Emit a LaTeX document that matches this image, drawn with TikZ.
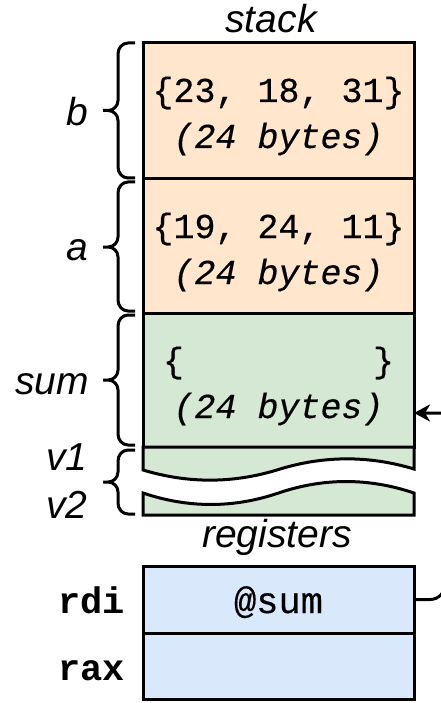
\documentclass[tikz,border=0pt]{standalone}
\usepackage{fontspec}
\setmainfont{Liberation Sans}
\setsansfont{Liberation Sans}
\setmonofont{Liberation Mono}
\newfontfamily\monoheavy[FakeBold=0.4]{Liberation Mono}
\usetikzlibrary{arrows.meta}
\definecolor{orangefill}{HTML}{FFE6CC}
\definecolor{greenfill}{HTML}{D5E8D4}
\definecolor{bluefill}{HTML}{DAE8FC}
\newcommand\drawbrace[3]{%
  \draw[bracestyle] (135,#1) -- (128,#1) to[out=180,in=90] (118,#1+11) -- (118,#2-10)
    to[out=-90,in=0] (108,#2) -- (103,#2)
    (108,#2) to[out=0,in=90] (118,#2+10) -- (118,#3-11)
    to[out=-90,in=180] (128,#3) -- (135,#3);}
\begin{document}
\begin{tikzpicture}[x=1pt,y=-1pt,
  cell/.style={draw, line width=3pt, minimum width=271pt, inner sep=0pt, outer sep=0pt},
  lbl/.style={font=\fontsize{39}{39}\selectfont\sffamily\itshape, anchor=base, inner sep=0pt},
  mono/.style={font=\fontsize{35}{35}\selectfont\monoheavy, anchor=base, inner sep=0pt},
  monoit/.style={font=\fontsize{35}{35}\selectfont\monoheavy\itshape, anchor=base, inner sep=0pt},
  regtxt/.style={font=\fontsize{37}{37}\selectfont\monoheavy, anchor=base, inner sep=0pt},
  regname/.style={font=\fontsize{37}{37}\selectfont\ttfamily\bfseries, anchor=base east, inner sep=0pt},
  bracestyle/.style={draw, line width=3pt, line join=round, line cap=butt},
  wave/.style={draw, line width=3pt, fill=greenfill, line join=miter},
  conn/.style={draw, line width=3pt}]
\path[use as bounding box] (0,0) rectangle (441,703);
\clip (0,0) rectangle (441,703);

% stack cells
\node[cell, fill=orangefill, minimum height=136pt] (b) at (278.5,111) {};
\node[cell, fill=orangefill, minimum height=134pt] (a) at (278.5,246) {};
\node[cell, fill=greenfill, minimum height=134pt] (sum) at (278.5,380) {};

% v1 and v2 (cut cells)
\path[wave] (143,447) -- (414,447) -- (414,469)
  .. controls (368.7,455.3) and (323.5,455.5) .. (278.5,469.5)
  .. controls (233.5,483.5) and (188.3,483.7) .. (143,470) -- cycle;
\path[wave] (143,515) -- (143,493)
  .. controls (188.3,508.3) and (233.5,508.3) .. (278.5,493)
  .. controls (323.5,477.7) and (368.7,477.7) .. (414,493) -- (414,515) -- cycle;

% registers
\node[cell, fill=bluefill, minimum height=67pt] (rdi) at (278.5,599.5) {};
\node[cell, fill=bluefill, minimum height=66pt] (rax) at (278.5,666) {};

% cell texts
\node[mono] (btop) at (278.5,102) {\{23, 18, 31\}};
\node[monoit] (bbot) at (278.5,148) {(24 bytes)};
\node[mono] (atop) at (278.5,238) {\{19, 24, 11\}};
\node[monoit] (abot) at (278.5,284) {(24 bytes)};
\node[mono] (stop) at (278.5,372) {\{\hphantom{000000000}\}};
\node[monoit] (sbot) at (278.5,418) {(24 bytes)};
\node[regtxt] (atsum) at (278.5,613) {@sum};

% labels
\node[lbl] (lstack) at (271,33) {stack};
\node[lbl] (lreg) at (277,547) {registers};
\node[lbl] (lb) at (77,126) {b};
\node[lbl] (la) at (77,260) {a};
\node[lbl] (lsum) at (52,394) {sum};
\node[lbl] (lv1) at (67,470) {v1};
\node[lbl] (lv2) at (67,518) {v2};
\node[regname] (nrdi) at (125,613) {rdi};
\node[regname] (nrax) at (125,680) {rax};

% braces
\drawbrace{43}{110.5}{178}
\drawbrace{182}{247}{311}
\drawbrace{315}{380}{445}
\drawbrace{450}{482}{514}

% pointer connector
\coordinate (sumin) at ([yshift=-33pt]sum.east);
\draw[conn, -{Stealth[length=16pt,width=17pt,inset=5pt]}]
  (rdi.east) -- (430,599.5) to[out=0,in=-90] (445,584.5) -- (445,500)
  -- (470,500) -- (470,413) -- (sumin);
\end{tikzpicture}
\end{document}
